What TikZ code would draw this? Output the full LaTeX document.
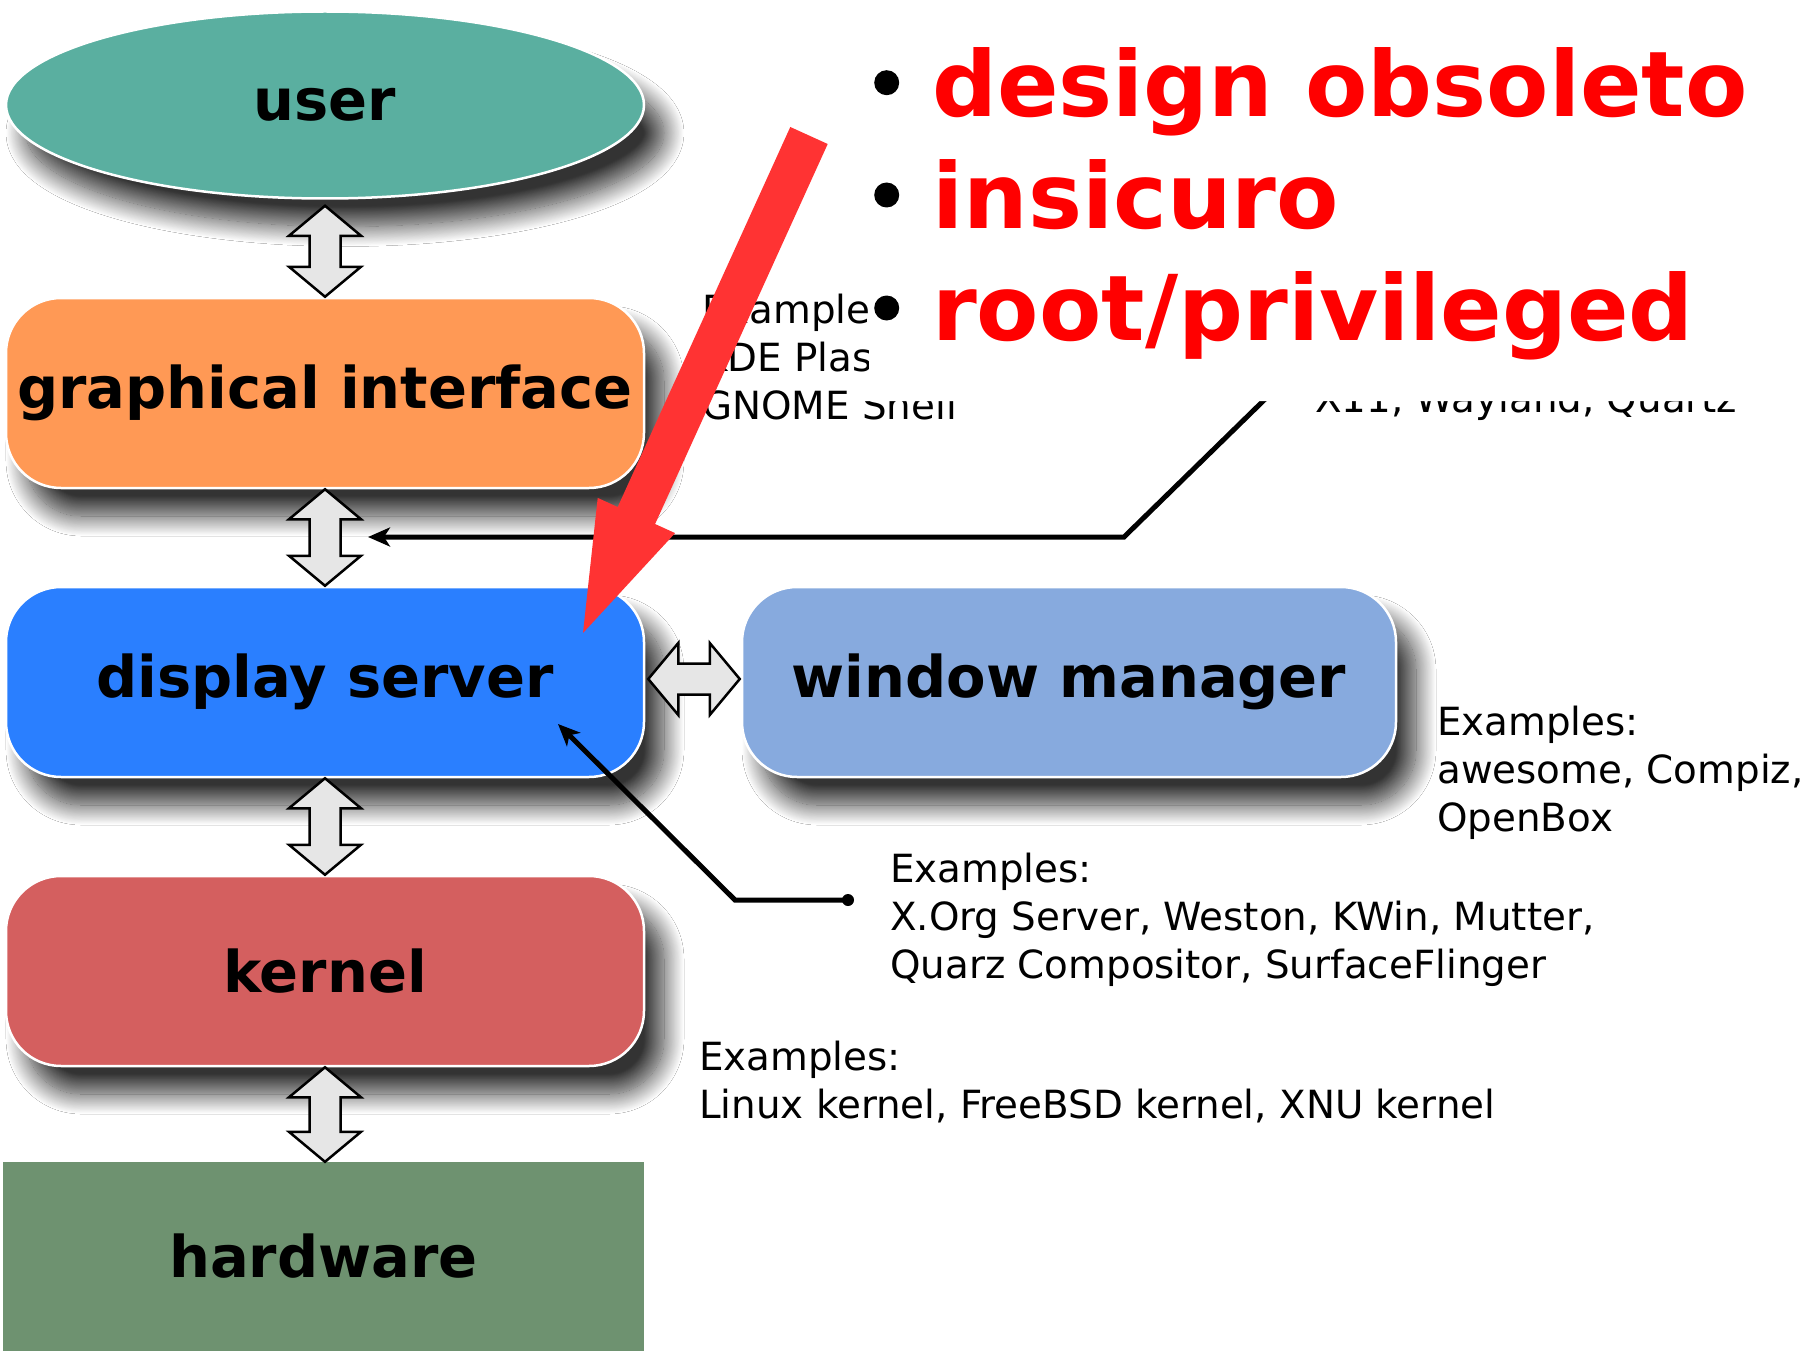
\documentclass[tikz,border=0pt]{standalone}
\usepackage{fontspec}
\setmainfont{DejaVu Sans}
\usetikzlibrary{shapes.geometric,shadows.blur,calc,arrows.meta}

\definecolor{userc}{HTML}{5AAFA0}
\definecolor{guic}{HTML}{FF9955}
\definecolor{dispc}{HTML}{2A7FFF}
\definecolor{wmc}{HTML}{87AADE}
\definecolor{kernc}{HTML}{D45F5F}
\definecolor{hwc}{HTML}{6E9270}
\definecolor{arrowgray}{HTML}{E6E6E6}
\definecolor{warnred}{HTML}{FF3333}

\tikzset{
  labelfont/.style={font=\fontsize{57.5}{60}\selectfont\bfseries},
  layer/.style={labelfont, draw=white, line width=2.5pt, inner sep=0pt,
    blur shadow={shadow xshift=20pt, shadow yshift=-28pt,
                 shadow blur radius=20pt, shadow blur steps=24,
                 shadow opacity=80}},
  roundbox/.style={layer, rectangle, rounded corners=55pt,
    minimum width=638pt, minimum height=190pt},
  dblarrow/.style={draw=black, fill=arrowgray, line width=2.5pt, line join=miter},
  note/.style={anchor=base west, inner sep=0pt, font=\fontsize{38.8}{48}\selectfont},
  leader/.style={draw=black, line width=5pt},
  leadtip/.style={-{Stealth[length=22pt,width=19pt,inset=6pt]}},
  bigred/.style={font=\fontsize{90.8}{100}\selectfont\bfseries, text=red,
    anchor=base west, inner sep=0pt},
}

% vertical two-headed block arrow from #1 (top) down to #2 (bottom)
\newcommand\vdouble[2]{%
  \draw[dblarrow] let \p1=(#1), \p2=(#2) in
    (\x1,\y1) -- (\x1+36pt,\y1-30pt) -- (\x1+15.5pt,\y1-30pt)
    -- (\x1+15.5pt,\y2+30pt) -- (\x1+36pt,\y2+30pt) -- (\x1,\y2)
    -- (\x1-36pt,\y2+30pt) -- (\x1-15.5pt,\y2+30pt)
    -- (\x1-15.5pt,\y1-30pt) -- (\x1-36pt,\y1-30pt) -- cycle;}
% horizontal two-headed block arrow from #1 (left) to #2 (right)
\newcommand\hdouble[2]{%
  \draw[dblarrow] let \p1=(#1), \p2=(#2) in
    (\x1,\y1) -- (\x1+30pt,\y1+36pt) -- (\x1+30pt,\y1+15.5pt)
    -- (\x2-30pt,\y1+15.5pt) -- (\x2-30pt,\y1+36pt) -- (\x2,\y1)
    -- (\x2-30pt,\y1-36pt) -- (\x2-30pt,\y1-15.5pt)
    -- (\x1+30pt,\y1-15.5pt) -- (\x1+30pt,\y1-36pt) -- cycle;}

\begin{document}
\begin{tikzpicture}[x=1pt,y=-1pt]
\useasboundingbox (0,0) rectangle (1812,1351);
\fill[white] (0,0) rectangle (1812,1351);

% the layer stack
\node[layer, ellipse, fill=userc, minimum width=638pt, minimum height=187pt]
  (user) at (325,105) {user};
\node[roundbox, fill=guic] (gui) at (325,393) {graphical interface};
\node[roundbox, fill=dispc] (disp) at (325,682) {display server};
\node[roundbox, fill=wmc, minimum width=654pt] (wm) at (1069,682) {window manager};
\node[roundbox, fill=kernc] (kern) at (325,971) {kernel};
\node[labelfont, rectangle, fill=hwc, inner sep=0pt, minimum width=641pt,
  minimum height=189pt] (hw) at (323.5,1256.5) {hardware};

% block arrows between the layers
\coordinate (a1t) at ($(user.south)+(0,6)$);
\vdouble{a1t}{gui.north}
\vdouble{gui.south}{disp.north}
\vdouble{disp.south}{kern.north}
\vdouble{kern.south}{hw.north}
\coordinate (hl) at ($(disp.east)+(3,-3)$);
\coordinate (hr) at ($(wm.west)+(-1,-3)$);
\hdouble{hl}{hr}

% example lists
\node[note] (guinote) at (702,323)
  {\vtop{\hbox{Examples:}\hbox{KDE Plasma,}\hbox{GNOME Shell}}};
\node[note] (protonote) at (1315,412) {X11, Wayland, Quartz};
\node[note] (wmnote) at (1437,735)
  {\vtop{\hbox{Examples:}\hbox{awesome, Compiz,}\hbox{OpenBox}}};
\node[note] (dispnote) at (890,882)
  {\vtop{\hbox{Examples:}\hbox{X.Org Server, Weston, KWin, Mutter,}\hbox{Quarz Compositor, SurfaceFlinger}}};
\node[note] (kernnote) at (699,1070)
  {\vtop{\hbox{Examples:}\hbox{Linux kernel, FreeBSD kernel, XNU kernel}}};

% leader lines
\coordinate (protoTip) at (368,537);
\coordinate (protoBend) at (1124,537);
\coordinate (protoEnd) at (1300,365);
\draw[leader, leadtip] (protoEnd) -- (protoBend) -- (protoTip);
\coordinate (dispDot) at (848,900);
\coordinate (dispBend) at (735,900);
\coordinate (dispTip) at (558,724);
\draw[leader, leadtip] (dispDot) -- (dispBend) -- (dispTip);
\fill (dispDot) circle (6);

% white panel for the remarks
\fill[white] (869,-5) -- (1817,-5) -- (1817,401) -- (862,401)
  -- (862,372) -- (869,372) -- cycle;

% remarks
\fill (886.7,82.7) circle (12.5);
\fill (886.7,195) circle (12.5);
\fill (886.7,308) circle (12.5);
\node[bigred] (r1) at (932,116.7) {design obsoleto};
\node[bigred] (r2) at (932,228.3) {insicuro};
\node[bigred] (r3) at (932,340) {root/privileged};

% red pointer onto the display server
\fill[warnred] (790.3,127) -- (827.7,144) -- (655.1,524) -- (675.1,533.1)
  -- (583,633) -- (597.7,497.9) -- (617.7,507) -- cycle;
\end{tikzpicture}
\end{document}
